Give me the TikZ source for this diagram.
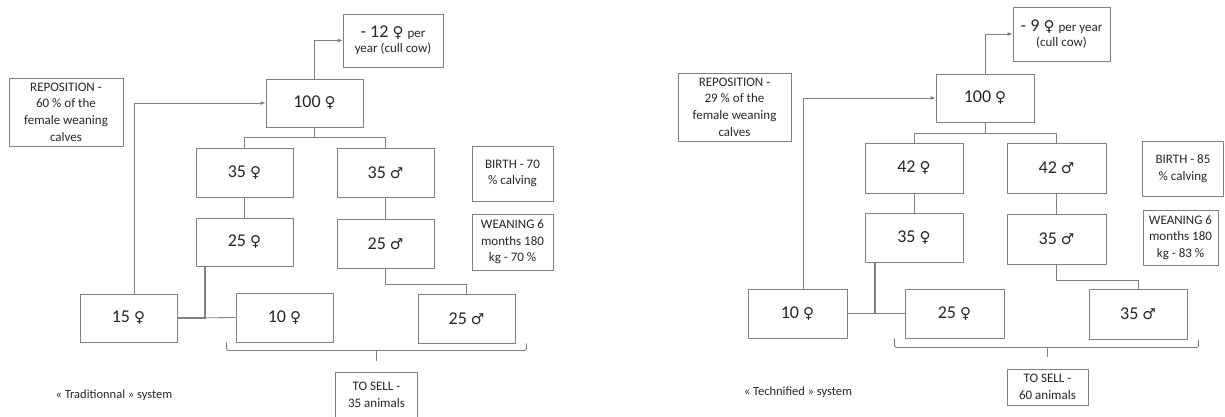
\documentclass[tikz,border=0pt]{standalone}
\usepackage{fontspec}
\setmainfont{Carlito}
\newfontfamily\symf{DejaVu Sans}
\usetikzlibrary{arrows.meta}
\definecolor{txt}{HTML}{262626}
\definecolor{ln}{HTML}{7F7F7F}
\newcommand{\Fe}{{\symf\fontsize{15}{16}\selectfont ♀}}
\newcommand{\Ma}{{\symf\fontsize{15}{16}\selectfont ♂}}
\newcommand{\BIG}{\fontsize{18}{20}\selectfont}
\newcommand{\SM}{\fontsize{13}{16.7}\selectfont}
\tikzset{
  box/.style={draw=ln, line width=0.8pt, text=txt, inner sep=0pt, align=center},
  bigtxt/.style={font=\BIG},
  smtxt/.style={font=\SM},
  conn/.style={draw=ln, line width=0.8pt},
  arr/.style={conn, -{Latex[length=5pt,width=4pt]}},
  captxt/.style={text=txt, font=\fontsize{12.5}{15}\selectfont, inner sep=0pt},
}
\begin{document}
\begin{tikzpicture}[x=1pt,y=-1pt]
\useasboundingbox (0,0) rectangle (1225,417);

% ---------------- LEFT: Traditionnal ----------------
\node[box, minimum width=100pt, minimum height=53pt] (cullL) at (393,40.5)
  {\BIG - 12 \Fe\ \SM per\\[3pt]\SM year (cull cow)};
\node[box, smtxt, minimum width=114pt, minimum height=68pt] (repL) at (66,112)
  {\SM REPOSITION -\\\SM 60 \% of the\\\SM female weaning\\\SM calves};
\node[box, bigtxt, minimum width=97pt, minimum height=48pt] (hL) at (314.5,103) {\BIG 100 \Fe};
\node[box, bigtxt, minimum width=97pt, minimum height=49pt] (fL1) at (244.5,172.5) {\BIG 35 \Fe};
\node[box, bigtxt, minimum width=97pt, minimum height=49pt] (mL1) at (385.5,172.5) {\BIG 35 \Ma};
\node[box, smtxt, minimum width=81pt, minimum height=55pt] (birthL) at (512.5,173.5)
  {\SM BIRTH - 70\\\SM \% calving};
\node[box, bigtxt, minimum width=97pt, minimum height=48pt] (fL2) at (244.5,242) {\BIG 25 \Fe};
\node[box, bigtxt, minimum width=97pt, minimum height=49pt] (mL2) at (385.5,243.5) {\BIG 25 \Ma};
\node[box, smtxt, minimum width=81pt, minimum height=56pt] (weanL) at (512.5,242)
  {\SM WEANING 6\\\SM months 180\\\SM kg - 70 \%};
\node[box, bigtxt, minimum width=97pt, minimum height=48pt] (fL3) at (128.5,318) {\BIG 15 \Fe};
\node[box, bigtxt, minimum width=97pt, minimum height=49pt] (fL4) at (284.5,317.5) {\BIG 10 \Fe};
\node[box, bigtxt, minimum width=97pt, minimum height=49pt] (mL3) at (466.5,318.5) {\BIG 25 \Ma};
\node[smtxt, text=txt, align=center, inner sep=0pt, minimum width=81pt, minimum height=36pt] (sellL) at (376.5,395)
  {\SM TO SELL -\\\SM 35 animals};
\draw[conn] ([yshift=-12pt]sellL.south west) |- ([yshift=4pt]sellL.north east) -- ([yshift=-12pt]sellL.south east);
\node[captxt] (capL) at (114,395) {« Traditionnal » system};

\draw[arr] (hL.north) |- (cullL.west);
\draw[arr] ([xshift=5.5pt]fL3.north) |- (hL.west);
\draw[conn] (hL.south) -- ++(0,10) coordinate (bL);
\draw[conn] (fL1.north) -- (fL1.north |- bL) -- (mL1.north |- bL) -- (mL1.north);
\draw[conn] (fL1.south) -- (fL2.north);
\draw[conn] (mL1.south) -- (mL2.north);
\draw[conn, line width=1.1pt] ([xshift=-39.5pt]fL2.south) |- (fL3.east);
\draw[conn] (fL3.east) -- (fL4.west);
\draw[conn] (mL2.south) -- ++(0,16) -| (mL3.north);
\draw[conn, rounded corners=1.5pt] ([xshift=-9pt]fL4.south west) -- ++(0,8) coordinate (brL1)
  -- ([xshift=11pt]mL3.south east |- brL1) -- ([xshift=11pt]mL3.south east);
\draw[conn] (sellL.north |- brL1) -- ++(0,11) coordinate (tkL);

% ---------------- RIGHT: Technified ----------------
\node[box, minimum width=97pt, minimum height=54pt] (cullR) at (1061.5,34)
  {\BIG - 9 \Fe\ \SM per year\\[3pt]\SM (cull cow)};
\node[box, smtxt, minimum width=113pt, minimum height=68pt] (repR) at (734.5,107)
  {\SM REPOSITION -\\\SM 29 \% of the\\\SM female weaning\\\SM calves};
\node[box, bigtxt, minimum width=98pt, minimum height=48pt] (hR) at (985,98) {\BIG 100 \Fe};
\node[box, bigtxt, minimum width=98pt, minimum height=50pt] (fR1) at (914,168) {\BIG 42 \Fe};
\node[box, bigtxt, minimum width=99pt, minimum height=50pt] (mR1) at (1056.5,168) {\BIG 42 \Ma};
\node[box, smtxt, minimum width=81pt, minimum height=55pt] (birthR) at (1183,168.5)
  {\SM BIRTH - 85\\\SM \% calving};
\node[box, bigtxt, minimum width=98pt, minimum height=49pt] (fR2) at (914,237.5) {\BIG 35 \Fe};
\node[box, bigtxt, minimum width=99pt, minimum height=50pt] (mR2) at (1056.5,239) {\BIG 35 \Ma};
\node[box, smtxt, minimum width=75pt, minimum height=55pt] (weanR) at (1180.5,237.5)
  {\SM WEANING 6\\\SM months 180\\\SM kg - 83 \%};
\node[box, bigtxt, minimum width=99pt, minimum height=49pt] (fR3) at (797.5,313.5) {\BIG 10 \Fe};
\node[box, bigtxt, minimum width=99pt, minimum height=49pt] (fR4) at (954.5,313.5) {\BIG 25 \Fe};
\node[box, bigtxt, minimum width=98pt, minimum height=50pt] (mR3) at (1138,314) {\BIG 35 \Ma};
\node[box, smtxt, minimum width=81pt, minimum height=36pt] (sellR) at (1047.5,387)
  {\SM TO SELL -\\\SM 60 animals};
\node[captxt] (capR) at (798,392) {« Technified » system};

\draw[arr] (hR.north) |- (cullR.west);
\draw[arr] ([xshift=5.5pt]fR3.north) |- (hR.west);
\draw[conn] (hR.south) -- ++(0,11) coordinate (bR);
\draw[conn] (fR1.north) -- (fR1.north |- bR) -- (mR1.north |- bR) -- (mR1.north);
\draw[conn] (fR1.south) -- (fR2.north);
\draw[conn] (mR1.south) -- (mR2.north);
\draw[conn, line width=1.1pt] ([xshift=-39pt]fR2.south) |- (fR3.east);
\draw[conn] (fR3.east) -- (fR4.west);
\draw[conn] (mR2.south) -- ++(0,16) -| (mR3.north);
\draw[conn, rounded corners=1.5pt] ([xshift=-10pt]fR4.south west) -- ++(0,9) coordinate (brR1)
  -- ([xshift=11pt]mR3.south east |- brR1) -- ([xshift=11pt]mR3.south east);
\draw[conn] (sellR.north |- brR1) -- ++(0,10) coordinate (tkR);
\end{tikzpicture}
\end{document}
